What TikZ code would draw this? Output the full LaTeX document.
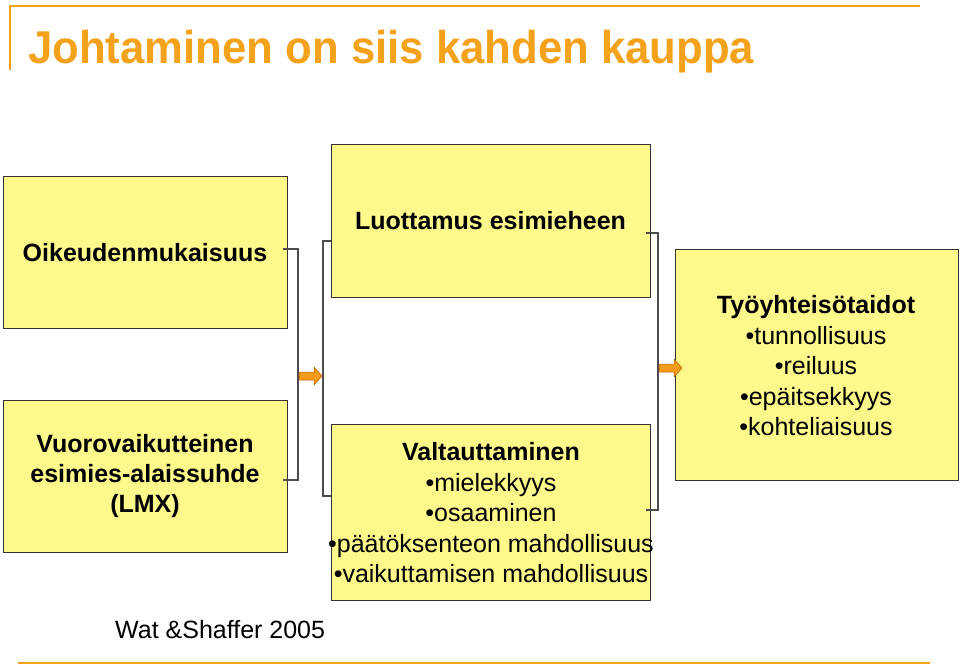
\documentclass[tikz,border=0pt]{standalone}
\usepackage{fontspec}
\setmainfont{Liberation Sans}
\definecolor{ttl}{HTML}{F4A21C}
\definecolor{arrc}{HTML}{F49A1A}
\begin{document}
\begin{tikzpicture}[x=1pt,y=-1pt,
box/.style={draw=black!80,fill=yellow!45,line width=1pt},
lbl/.style={align=center,inner sep=0pt,font=\fontsize{25}{30}\selectfont},
brk/.style={draw=black!70,line width=1.2pt},
arr/.style={fill=arrc,draw=orange!70!black,line width=0.5pt}]
\useasboundingbox (0,0) rectangle (960,668);
\draw[ttl,line width=1.5pt] (10,70) -- (10,6) -- (920,6);
\draw[ttl,line width=1.5pt] (18,663) -- (930,663);
\node[anchor=west,inner sep=0pt,text=ttl,font=\bfseries\fontsize{46}{50}\selectfont,xscale=0.95,transform shape] (title) at (28,52) {Johtaminen on siis kahden kauppa};
\path[box] (3,177) rectangle (287,328) node[midway,lbl] (a) {\textbf{Oikeudenmukaisuus}};
\path[box] (3,400) rectangle (287,552) node[midway,lbl] (b) {\textbf{Vuorovaikutteinen}\\\textbf{esimies-alaissuhde}\\\textbf{(LMX)}};
\path[box] (331,145) rectangle (650,297) node[midway,lbl] (c) {\textbf{Luottamus esimieheen}};
\path[box] (331,424) rectangle (650,600);
\node[lbl,font=\fontsize{25}{30.5}\selectfont] (d) at (491,513) {\textbf{Valtauttaminen}\\•mielekkyys\\•osaaminen\\•päätöksenteon mahdollisuus\\•vaikuttamisen mahdollisuus};
\path[box] (675,249) rectangle (958,480);
\node[lbl,font=\fontsize{25}{30.5}\selectfont] (e) at (816,366) {\textbf{Työyhteisötaidot}\\•tunnollisuus\\•reiluus\\•epäitsekkyys\\•kohteliaisuus};
\draw[brk] (283,249) -- (298,249) -- (298,480) -- (283,480);
\draw[brk] (331,241) -- (323,241) -- (323,496) -- (331,496);
\draw[brk] (646,233) -- (658,233) -- (658,510) -- (646,510);
\draw[arr] (299,372) -- (314,372) -- (314,367) -- (322,376) -- (314,385) -- (314,380) -- (299,380) -- cycle;
\draw[arr] (659,364) -- (674,364) -- (674,359) -- (682,368) -- (674,377) -- (674,372) -- (659,372) -- cycle;
\node[anchor=west,inner sep=0pt,font=\fontsize{25}{30}\selectfont] (src) at (115,630) {Wat \&Shaffer 2005};
\end{tikzpicture}
\end{document}
